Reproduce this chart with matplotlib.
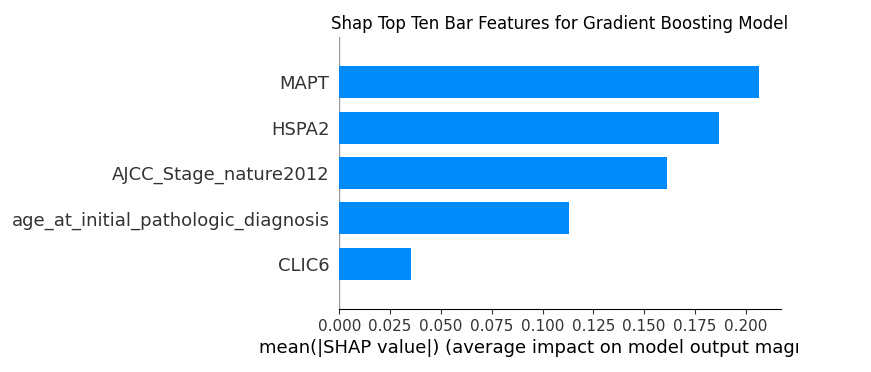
import matplotlib
matplotlib.use("Agg")
import matplotlib.pyplot as plt
from matplotlib.transforms import Bbox

features = ["CLIC6", "age_at_initial_pathologic_diagnosis", "AJCC_Stage_nature2012", "HSPA2", "MAPT"]
values = [0.0353, 0.1130, 0.1613, 0.1869, 0.2066]
xticks = [0.0, 0.025, 0.05, 0.075, 0.1, 0.125, 0.15, 0.175, 0.2]

W, H = 871, 372
fig = plt.figure(figsize=(W / 100, H / 100), dpi=100)
ax = fig.add_axes([339.3 / W, 1 - 309 / H, (780.7 - 339.3) / W, (309 - 37) / H])

y = list(range(len(features)))
ax.barh(y, values, height=0.7, color="#008bfb", align="center")
ax.axvline(0, 0, 1, color="#999999", linestyle="-", linewidth=1, zorder=-1)
ax.set_ylim(-1, len(features))
ax.set_xlim(0, 0.2172)
ax.set_yticks(y)
ax.set_yticklabels(features, fontsize=13, color="#333333")
ax.set_xticks(xticks)
ax.set_xticklabels([f"{v:.3f}" for v in xticks], fontsize=11, color="#333333")
ax.tick_params(axis="y", length=0, pad=7)
ax.tick_params(axis="x", color="#333333", labelcolor="#333333")
for s in ["right", "top", "left"]:
    ax.spines[s].set_visible(False)
ax.spines["bottom"].set_color("#000000")

ax.set_title("Shap Top Ten Bar Features for Gradient Boosting Model", fontsize=12)
xl = ax.set_xlabel("mean(|SHAP value|) (average impact on model output magnitude)", fontsize=13)
xl.set_x(xl.get_position()[0] - 0.5 / (780.7 - 339.3))
xl.set_clip_box(Bbox.from_extents(0, 0, 798, H))
xl.set_clip_on(True)

fig.savefig("out.png", dpi=100)
